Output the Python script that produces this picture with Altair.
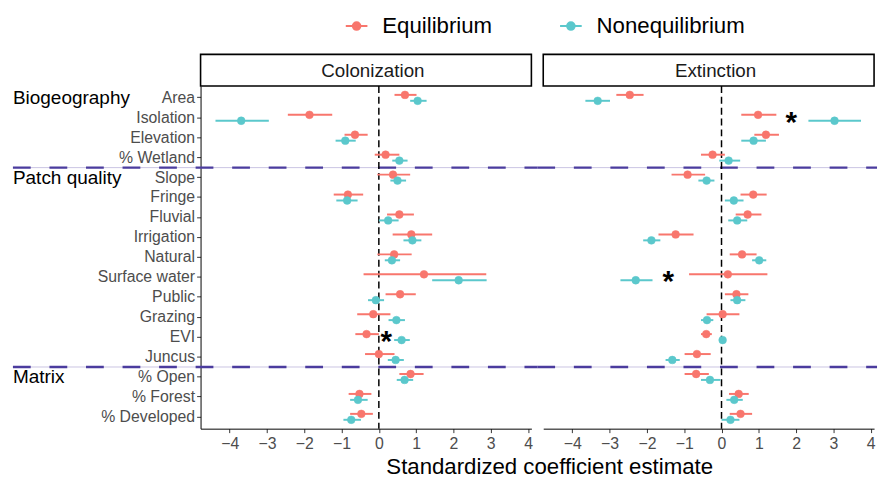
import altair as alt
import pandas as pd

# ---------------- data ----------------
categories = ["Area", "Isolation", "Elevation", "% Wetland", "Slope", "Fringe",
              "Fluvial", "Irrigation", "Natural", "Surface water", "Public",
              "Grazing", "EVI", "Juncus", "% Open", "% Forest", "% Developed"]
models = ["Equilibrium", "Nonequilibrium"]
panels = ["Colonization", "Extinction"]

col_eq_est = [0.70, -1.86, -0.64, 0.18, 0.38, -0.83, 0.55, 0.87, 0.41, 1.21, 0.57, -0.15, -0.33, 0.00, 0.85, -0.52, -0.47]
col_eq_lo = [0.42, -2.44, -0.92, -0.11, -0.04, -1.21, 0.22, 0.37, -0.04, -0.41, 0.18, -0.58, -0.63, -0.37, 0.55, -0.81, -0.77]
col_eq_hi = [1.01, -1.25, -0.30, 0.55, 0.84, -0.42, 0.94, 1.43, 0.88, 2.88, 0.99, 0.31, 0.00, 0.42, 1.20, -0.20, -0.16]

col_ne_est = [1.04, -3.69, -0.90, 0.55, 0.50, -0.85, 0.25, 0.90, 0.35, 2.14, -0.08, 0.47, 0.61, 0.45, 0.69, -0.56, -0.74]
col_ne_lo = [0.84, -4.38, -1.16, 0.36, 0.31, -1.14, 0.00, 0.66, 0.16, 1.43, -0.29, 0.26, 0.41, 0.24, 0.48, -0.77, -0.95]
col_ne_hi = [1.28, -2.95, -0.62, 0.77, 0.73, -0.57, 0.53, 1.14, 0.57, 2.89, 0.14, 0.70, 0.83, 0.67, 0.92, -0.30, -0.48]

ext_eq_est = [-2.46, 0.98, 1.19, -0.24, -0.91, 0.85, 0.70, -1.23, 0.55, 0.17, 0.40, 0.03, -0.41, -0.66, -0.68, 0.46, 0.51]
ext_eq_lo = [-2.82, 0.53, 0.88, -0.55, -1.34, 0.51, 0.38, -1.69, 0.22, -0.87, 0.09, -0.40, -0.55, -0.99, -0.99, 0.20, 0.22]
ext_eq_hi = [-2.09, 1.47, 1.54, 0.09, -0.44, 1.21, 1.07, -0.75, 0.94, 1.23, 0.72, 0.48, -0.26, -0.29, -0.34, 0.73, 0.82]

ext_ne_est = [-3.32, 3.03, 0.86, 0.19, -0.40, 0.33, 0.42, -1.88, 1.01, -2.30, 0.42, -0.39, 0.03, -1.32, -0.31, 0.34, 0.24]
ext_ne_lo = [-3.65, 2.33, 0.53, -0.06, -0.62, 0.09, 0.18, -2.10, 0.82, -2.71, 0.24, -0.55, -0.04, -1.50, -0.55, 0.13, 0.00]
ext_ne_hi = [-2.99, 3.74, 1.19, 0.50, -0.19, 0.59, 0.69, -1.64, 1.20, -1.85, 0.64, -0.22, 0.10, -1.12, -0.03, 0.57, 0.48]

group_labels = ["Biogeography", "Patch quality", "Matrix"]
group_rows = ["Area", "Slope", "% Open"]
separator_rows = ["% Wetland", "Juncus"]

col_star_rows = ["EVI"]
col_star_x = [0.2]
ext_star_rows = ["Isolation", "Surface water"]
ext_star_x = [1.87, -1.43]

x_ticks = [-4, -3, -2, -1, 0, 1, 2, 3, 4]
colors = ["#F8766D", "#5BC8CC"]

# ---------------- layout constants ----------------
W = 335
H = 347
GAP = 12
FONT = "Liberation Sans"
XDOM = [-4.78, 4.09]
DODGE = 3


def build_df(eq_est, eq_lo, eq_hi, ne_est, ne_lo, ne_hi):
    rows = []
    for i, c in enumerate(categories):
        rows.append(dict(category=c, model=models[0], est=eq_est[i], lo=eq_lo[i], hi=eq_hi[i]))
        rows.append(dict(category=c, model=models[1], est=ne_est[i], lo=ne_lo[i], hi=ne_hi[i]))
    return pd.DataFrame(rows)


col_df = build_df(col_eq_est, col_eq_lo, col_eq_hi, col_ne_est, col_ne_lo, col_ne_hi)
ext_df = build_df(ext_eq_est, ext_eq_lo, ext_eq_hi, ext_ne_est, ext_ne_lo, ext_ne_hi)

yscale = alt.Scale(domain=categories, type="band", paddingInner=0, paddingOuter=0.094)
xscale = alt.Scale(domain=XDOM, nice=False, zero=False)
colscale = alt.Scale(domain=models, range=colors)

legend_path = ("M-1,0H1M0.36,0A0.36,0.36,0,1,1,-0.36,0"
               "A0.36,0.36,0,1,1,0.36,0Z")

legend = alt.Legend(orient="none", legendX=146, legendY=-73,
                    direction="horizontal", title=None,
                    symbolType=legend_path, symbolSize=480,
                    symbolStrokeWidth=1.8, labelFontSize=22.5,
                    labelFont=FONT, labelColor="black", labelOffset=14,
                    columnPadding=64)


def panel(name, df, star_rows, star_x, first):
    xaxis_kw = dict(values=x_ticks, grid=False, domainColor="black", domainWidth=1,
                    tickColor="#333333", tickSize=4, labelFontSize=16,
                    labelColor="#4D4D4D", labelFont=FONT, labelPadding=3)
    if first:
        xaxis = alt.Axis(title="Standardized coefficient estimate",
                         titleFontSize=22.5, titleFont=FONT, titleFontWeight="normal",
                         titleColor="black", titleX=353, titleY=45,
                         titleBaseline="alphabetic", **xaxis_kw)
        yaxis = alt.Axis(title=None, domainColor="black", domainWidth=1,
                         tickColor="#333333", tickSize=4, labelFontSize=16,
                         labelColor="#4D4D4D", labelFont=FONT, labelPadding=2)
    else:
        xaxis = alt.Axis(title=None, **xaxis_kw)
        yaxis = None

    layers = []
    sep_df = pd.DataFrame({"category": separator_rows})
    x_left = -190 if first else -GAP / 2
    x_right = W + GAP / 2 if first else W + 3
    layers.append(alt.Chart(sep_df).mark_rule(color="#C9C3E3", strokeWidth=1).encode(
        y=alt.Y("category:N", scale=yscale, bandPosition=1, sort=categories, axis=yaxis),
        x=alt.value(x_left), x2=alt.value(x_right)))
    layers.append(alt.Chart(sep_df).mark_rule(color="#4B3C9E", strokeWidth=2.5,
                                              strokeDash=[18, 19]).encode(
        y=alt.Y("category:N", scale=yscale, bandPosition=1, sort=categories),
        x=alt.value(x_left), x2=alt.value(x_right)))

    layers.append(alt.Chart(pd.DataFrame({"z": [0]})).mark_rule(
        color="black", strokeDash=[7, 4], strokeWidth=1.5
    ).encode(x=alt.X("z:Q", scale=xscale, axis=xaxis)))

    for m, off in zip(models, [-DODGE, DODGE]):
        base = alt.Chart(df).transform_filter(alt.datum.model == m)
        layers.append(base.mark_rule(strokeWidth=2, yOffset=off).encode(
            x=alt.X("lo:Q", scale=xscale),
            x2="hi:Q",
            y=alt.Y("category:N", scale=yscale, sort=categories),
            stroke=alt.Stroke("model:N", scale=colscale, legend=legend),
        ))
    for m, off in zip(models, [-DODGE, DODGE]):
        base = alt.Chart(df).transform_filter(alt.datum.model == m)
        layers.append(base.mark_point(filled=True, size=62, opacity=1,
                                      strokeWidth=0.5, yOffset=off).encode(
            x=alt.X("est:Q", scale=xscale),
            y=alt.Y("category:N", scale=yscale, sort=categories),
            fill=alt.Fill("model:N", scale=colscale, legend=legend),
            stroke=alt.Stroke("model:N", scale=colscale, legend=legend),
        ))

    star_df = pd.DataFrame({"category": star_rows, "x": star_x})
    layers.append(alt.Chart(star_df).mark_text(text="*", fontSize=30, fontWeight="bold",
                                               font=FONT, color="black",
                                               baseline="alphabetic", dy=14).encode(
        x=alt.X("x:Q", scale=xscale),
        y=alt.Y("category:N", scale=yscale, sort=categories)))

    one = pd.DataFrame({"label": [name]})
    layers.append(alt.Chart(one).mark_rect(fill="white", stroke="black", strokeWidth=1.6).encode(
        x=alt.value(0), x2=alt.value(W), y=alt.value(-32), y2=alt.value(0)))
    layers.append(alt.Chart(one).mark_text(fontSize=19, font=FONT, color="#1A1A1A",
                                           baseline="middle", align="center").encode(
        text="label:N", x=alt.value(W / 2 + 7), y=alt.value(-15)))

    if first:
        gdf = pd.DataFrame({"category": group_rows, "label": group_labels})
        layers.append(alt.Chart(gdf).mark_text(fontSize=19.2, font=FONT, color="black",
                                               align="left", baseline="middle").encode(
            text="label:N", x=alt.value(-190),
            y=alt.Y("category:N", scale=yscale, sort=categories)))
    return alt.layer(*layers).properties(width=W, height=H)


left = panel(panels[0], col_df, col_star_rows, col_star_x, True)
right = panel(panels[1], ext_df, ext_star_rows, ext_star_x, False)

chart = alt.concat(left, right, columns=2, spacing=GAP, align="none",
                   bounds="flush").resolve_scale(
    fill="shared", stroke="shared"
).resolve_legend(fill="shared", stroke="shared").properties(
    padding={"left": 3, "top": 3, "right": 0, "bottom": 0}
).configure(font=FONT).configure_view(strokeWidth=0, stroke="transparent")

chart.save("out.html", embed_options={"renderer": "svg", "actions": False})
